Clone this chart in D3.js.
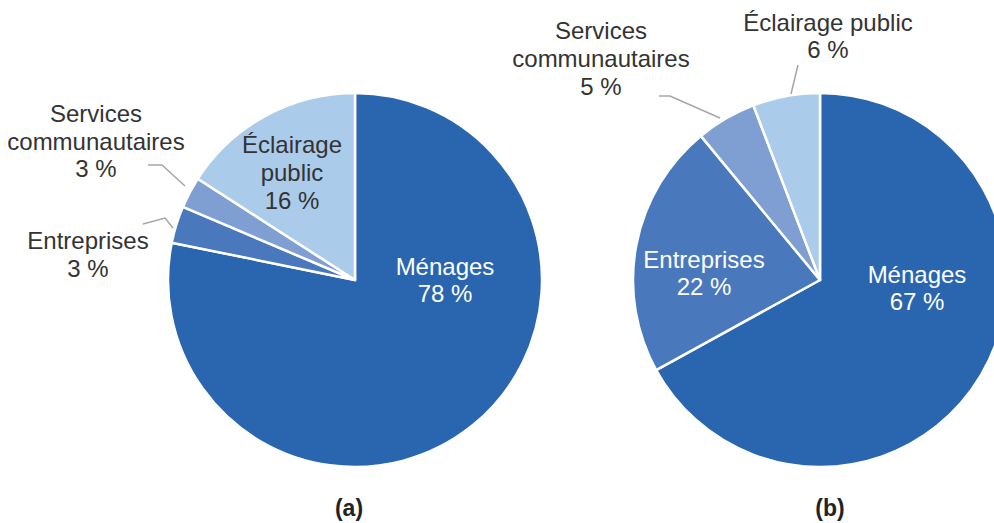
<!DOCTYPE html>
<html><head><meta charset="utf-8">
<script src="https://cdn.jsdelivr.net/npm/d3@7"></script>
<style>body{margin:0;background:#fff}svg{display:block}text{font-family:"Liberation Sans",Arial,sans-serif}</style>
</head><body>
<svg id="c" width="994" height="523"></svg>
<script>
const categories = ["Ménages", "Entreprises", "Services communautaires", "Éclairage public"];
const valuesA = [78.2, 3.2, 2.7, 15.9];
const labelsA = ["78 %", "3 %", "3 %", "16 %"];
const valuesB = [67, 22, 5.2, 5.8];
const labelsB = ["67 %", "22 %", "5 %", "6 %"];
const colors = ["#2a66b0", "#4a78bd", "#7f9fd2", "#abcbeb"];

const svg = d3.select("#c");
const R = 187;
const color = d3.scaleOrdinal().domain(categories).range(colors);
const pie = d3.pie().sort(null).value(d => d.v);
const arc = d3.arc().innerRadius(0).outerRadius(R);

function drawPie(cx, cy, values, labels, cfg, caption, capX) {
  const data = categories.map((c, i) => ({c, v: values[i], l: labels[i]}));
  const g = svg.append("g").attr("transform", `translate(${cx},${cy})`);
  g.selectAll("path").data(pie(data)).join("path")
    .attr("d", arc).attr("fill", d => color(d.data.c))
    .attr("stroke", "#fff").attr("stroke-width", 2.5).attr("stroke-linejoin", "round");
  cfg.forEach(o => {
    const d = data[o.i];
    const lines = o.lines.concat([d.l]);
    const t = svg.append("text").attr("text-anchor", "middle")
      .attr("font-size", 24).attr("fill", o.fill);
    lines.forEach((s, k) => t.append("tspan").attr("x", o.x).attr("y", o.y + k * o.dy).text(s));
    if (o.leader) {
      svg.append("polyline").attr("points", o.leader.map(p => p.join(",")).join(" "))
        .attr("fill", "none").attr("stroke", "#a6a6a6").attr("stroke-width", 1.5);
    }
  });
  svg.append("text").attr("x", capX).attr("y", 516).attr("text-anchor", "middle")
    .attr("font-size", 23).attr("font-weight", "bold").attr("fill", "#222").text(caption);
}

drawPie(355, 280, valuesA, labelsA, [
  {i: 0, lines: ["Ménages"], x: 445, y: 275, dy: 26.5, fill: "#fff"},
  {i: 3, lines: ["Éclairage", "public"], x: 292, y: 152.5, dy: 28.2, fill: "#333"},
  {i: 2, lines: ["Services", "communautaires"], x: 96, y: 122, dy: 27.5, fill: "#333",
   leader: [[148, 165], [162, 165], [185, 186]]},
  {i: 1, lines: ["Entreprises"], x: 88, y: 249, dy: 27.7, fill: "#333",
   leader: [[143, 224], [165, 218], [173, 228]]}
], "(a)", 349);

drawPie(820, 280, valuesB, labelsB, [
  {i: 0, lines: ["Ménages"], x: 917, y: 283, dy: 27, fill: "#fff"},
  {i: 1, lines: ["Entreprises"], x: 704, y: 268, dy: 27, fill: "#fff"},
  {i: 2, lines: ["Services", "communautaires"], x: 601, y: 38.5, dy: 28, fill: "#333",
   leader: [[659, 96], [670, 96], [720, 118]]},
  {i: 3, lines: ["Éclairage public"], x: 828, y: 31, dy: 27.3, fill: "#333",
   leader: [[798, 65], [791, 94]]}
], "(b)", 830);
</script>
</body></html>
